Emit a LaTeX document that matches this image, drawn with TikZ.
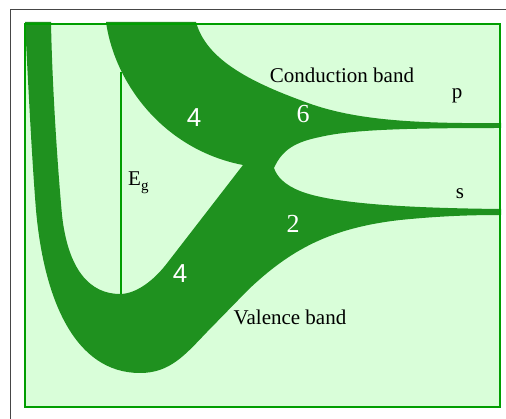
\documentclass[tikz,border=0pt]{standalone}
\usepackage{fontspec}
\setmainfont{Liberation Serif}
\newfontfamily\digitsans{Liberation Sans}
\usepackage{xcolor}
\usepackage{tikz}
\definecolor{bandgreen}{RGB}{31,145,31}
\definecolor{panelfill}{RGB}{217,254,217}
\definecolor{panelgreen}{RGB}{0,158,0}
\definecolor{framegray}{RGB}{70,70,70}

\begin{document}
\begin{tikzpicture}[
  x=1pt, y=-1pt,
  band/.style={fill=bandgreen, draw=none},
  panel/.style={draw=panelgreen, line width=2.5pt},
  gapline/.style={draw=panelgreen, line width=2pt},
  lbl/.style={font=\fontsize{21}{24}\selectfont, text=black, inner sep=0pt, anchor=base},
  num/.style={font=\fontsize{26}{30}\selectfont, text=white, inner sep=0pt, anchor=base},
]
  \useasboundingbox (0,0) rectangle (506,419);

  % Outer frame
  \draw[framegray, line width=1pt] (10,419) -- (10,10) -- (506,10);

  % Panel background
  \fill[panelfill] (25,24) rectangle (500,407);

  % Bands (valence and conduction, joined at the crossing)
  \fill[band] (25,22)
    .. controls (29,100) and (32,160) .. (36,210)
    .. controls (44,300) and (75,373) .. (140,373)
    .. controls (170,373) and (185,355) .. (207,332)
    -- (248,290)
    .. controls (290,250) and (330,228) .. (400,220)
    .. controls (440,216) and (470,215) .. (501,215)
    -- (501,209)
    .. controls (400,208) and (330,203) .. (300,191)
    .. controls (285,185) and (277,177) .. (274,168)
    .. controls (282,150) and (295,142) .. (320,137)
    .. controls (350,130) and (400,128) .. (501,128)
    -- (501,123)
    .. controls (400,124) and (345,118) .. (300,100)
    .. controls (240,78) and (205,55) .. (196,22)
    -- (106,22)
    .. controls (115,85) and (165,150) .. (243,165)
    -- (168,262)
    .. controls (153,282) and (135,294) .. (120,294)
    .. controls (90,294) and (68,270) .. (62,215)
    .. controls (57,160) and (52,80) .. (51,22)
    -- cycle;

  % Gap marker
  \draw[gapline] (121,72) -- (121,294);

  % Panel border
  \draw[panel] (25,24) rectangle (500,407);

  % Labels
  \node[lbl] (cb) at (342,83) {Conduction band};
  \node[lbl] (vb) at (290,325) {Valence band};
  \node[lbl] (p) at (457,99) {p};
  \node[lbl] (s) at (460,199) {s};
  \node[lbl, anchor=base west] (eg) at (128,186) {E\raisebox{-5pt}{\fontsize{15}{15}\selectfont g}};

  % Degeneracies
  \node[num] (n4c) at (194,127) {\digitsans 4};
  \node[num] (n6) at (303,123) {6};
  \node[num] (n2) at (293,233) {2};
  \node[num] (n4v) at (180,283) {\digitsans 4};
\end{tikzpicture}
\end{document}
